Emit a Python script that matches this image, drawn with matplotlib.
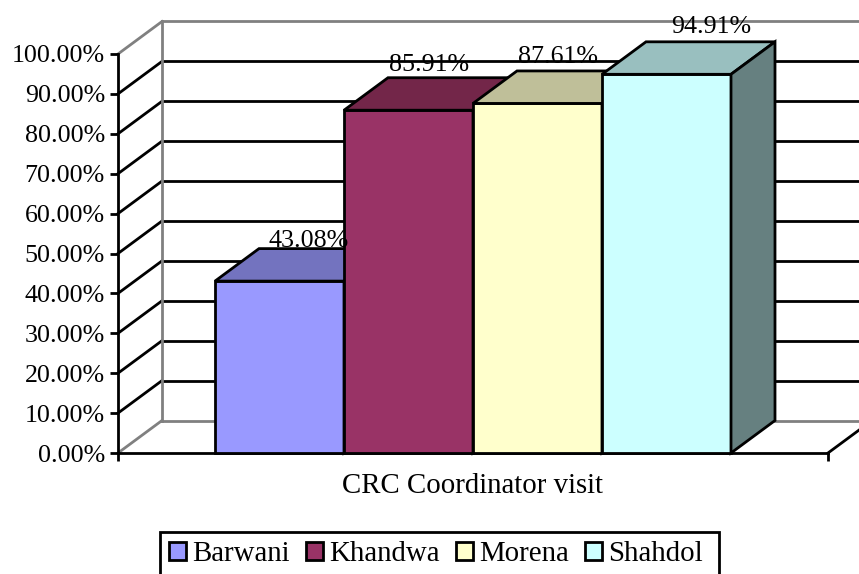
import matplotlib
matplotlib.use("Agg")
import matplotlib.pyplot as plt
from matplotlib.patches import Patch, Polygon, Rectangle

districts = ["Barwani", "Khandwa", "Morena", "Shahdol"]
visit_pct = [43.08, 85.91, 87.61, 94.91]
bar_colors = ["#9999FF", "#993366", "#FFFFCC", "#CCFFFF"]
top_colors = ["#7373BF", "#732649", "#BFBF99", "#99BFBF"]
side_colors = ["#4D4D80", "#4D1A33", "#808066", "#668080"]
y_ticks = [0, 10, 20, 30, 40, 50, 60, 70, 80, 90, 100]
category = "CRC Coordinator visit"

W, H = 859, 574
plt.rcParams["font.family"] = ["Liberation Serif", "DejaVu Serif"]
plt.rcParams["font.size"] = 18.7
WORD_SIZE = 20.8  # the words run wider than the digits in the original face
LW = 2.0
GREY = "#808080"

fig = plt.figure(figsize=(W / 100, H / 100), dpi=100)
ax = fig.add_axes([118 / W, 1 - 453 / H, 710 / W, 399 / H])
ax.patch.set_visible(False)

# bar width is one x unit, the plot is 5.5 bars wide
ax.set_xlim(-0.752, 4.752)
ax.set_ylim(0, 100)
dx = 44 / 129  # depth of the 3d look, in data units
dy = 32.5 / 3.99

for s in ["top", "right"]:
    ax.spines[s].set_visible(False)
for s in ["left", "bottom"]:
    ax.spines[s].set_linewidth(LW)
ax.set_yticks(y_ticks)
ax.set_yticklabels(["%.2f%%" % t for t in y_ticks])
ax.set_xticks([-0.752, 4.752])
ax.set_xticklabels(["", ""])
ax.tick_params(length=5.8, width=LW, pad=3.6, colors="black")
ax.set_xlabel(category, labelpad=5, fontsize=WORD_SIZE)

# walls and floor
x0, x1 = -0.752, 4.752
for t in y_ticks:
    c = GREY if t in (0, 100) else "black"
    ax.plot([x0, x0 + dx], [t, t + dy], color=c, lw=LW, clip_on=False, zorder=1)
    ax.plot([x0 + dx, x1 + dx], [t + dy, t + dy], color=c, lw=LW, clip_on=False, zorder=1)
ax.plot([x0 + dx, x0 + dx], [dy, 100 + dy], color=GREY, lw=LW, clip_on=False, zorder=1.5)
ax.plot([x1, x1 + dx], [0, dy], color="black", lw=LW, clip_on=False, zorder=1)

# bars, left to right so each one hides the side of the one before
for i, v in enumerate(visit_pct):
    z = 3 + i
    ax.bar(i + 0.5, v, width=1, color=bar_colors[i], edgecolor="black", lw=LW,
           zorder=z, clip_on=False)
    top = [(i, v), (i + 1, v), (i + 1 + dx, v + dy), (i + dx, v + dy)]
    side = [(i + 1, 0), (i + 1 + dx, dy), (i + 1 + dx, v + dy), (i + 1, v)]
    ax.add_patch(Polygon(top, fc=top_colors[i], ec="black", lw=LW, zorder=z,
                         joinstyle="miter", clip_on=False))
    ax.add_patch(Polygon(side, fc=side_colors[i], ec="black", lw=LW, zorder=z,
                         joinstyle="miter", clip_on=False))

# label offsets from the bar's top centre, in pixels
label_dx = [29.5, 21, 20.5, 44.5]
label_dy = [34, 39, 40, 41]
for i, v in enumerate(visit_pct):
    ax.annotate("%.2f%%" % v, (i + 0.5, v),
                xytext=(label_dx[i] * 0.72, label_dy[i] * 0.72),
                textcoords="offset points", ha="center", va="baseline",
                zorder=10, annotation_clip=False)

# frame drawn by hand, it runs off the bottom of the figure and has more room on the right
fig.add_artist(Rectangle((160 / W, 1 - 580 / H), 559 / W, 48 / H, fc="white", ec="black",
                         lw=LW, transform=fig.transFigure))
handles = [Patch(facecolor=c, edgecolor="black", lw=LW) for c in bar_colors]
leg = fig.legend(handles, districts, ncol=4, loc="upper left", fontsize=WORD_SIZE,
                 bbox_to_anchor=(160 / W, 1 - 532 / H), borderaxespad=0,
                 frameon=False, handlelength=0.59, handleheight=0.62, handletextpad=0.22,
                 columnspacing=0.55, borderpad=0.32, labelspacing=0)

fig.savefig("out.png", dpi=100)
